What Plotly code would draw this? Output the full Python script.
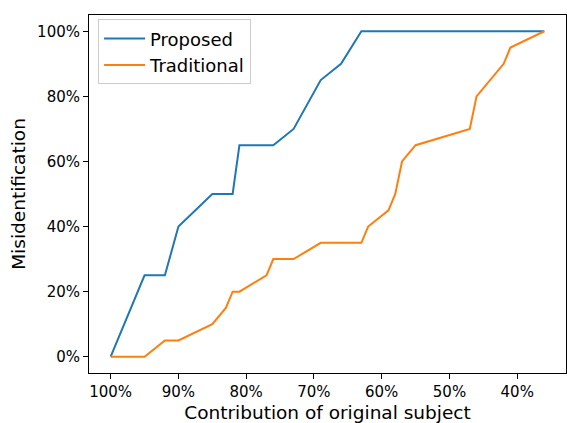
import plotly.graph_objects as go

# Contribution of original subject (%) and misidentification rate (%)
proposed_x = [100, 95, 92, 90, 85, 82, 81, 76, 73, 69, 66, 63, 36]
proposed_y = [0, 25, 25, 40, 50, 50, 65, 65, 70, 85, 90, 100, 100]

traditional_x = [100, 95, 92, 90, 85, 83, 82, 81, 77, 76, 73, 69, 63, 62, 59,
                 58, 57, 55, 47, 46, 42, 41, 36]
traditional_y = [0, 0, 5, 5, 10, 15, 20, 20, 25, 30, 30, 35, 35, 40, 45,
                 50, 60, 65, 70, 80, 90, 95, 100]

x_ticks = [100, 90, 80, 70, 60, 50, 40]
y_ticks = [0, 20, 40, 60, 80, 100]

FONT = "DejaVu Sans"

fig = go.Figure()
fig.add_trace(go.Scatter(x=proposed_x, y=proposed_y, mode="lines", name="Proposed",
                         line=dict(color="#1f77b4", width=2)))
fig.add_trace(go.Scatter(x=traditional_x, y=traditional_y, mode="lines", name="Traditional",
                         line=dict(color="#ff7f0e", width=2)))

axis_common = dict(showline=True, linecolor="black", linewidth=1, mirror=True,
                   ticks="outside", ticklen=5, tickcolor="black", tickwidth=1,
                   showgrid=False, zeroline=False,
                   tickfont=dict(family=FONT, size=15, color="black"))

fig.update_layout(
    width=567, height=423,
    margin=dict(l=89, r=1, t=15, b=50),
    plot_bgcolor="white", paper_bgcolor="white",
    font=dict(family=FONT, color="black"),
    xaxis=dict(range=[103.2, 32.8], tickmode="array", tickvals=x_ticks,
               ticktext=[f"{v}%" for v in x_ticks], automargin=False,
               title=dict(text="Contribution of original subject",
                          font=dict(family=FONT, size=18.5), standoff=6),
               **axis_common),
    yaxis=dict(range=[-5, 105], tickmode="array", tickvals=y_ticks,
               ticktext=[f"{v}%" for v in y_ticks], automargin=False,
               title=dict(text="Misidentification",
                          font=dict(family=FONT, size=18.5), standoff=6),
               **axis_common),
    legend=dict(x=0.019, y=0.988, xanchor="left", yanchor="top",
                bgcolor="rgba(255,255,255,0.8)", bordercolor="#cccccc", borderwidth=1,
                font=dict(family=FONT, size=18), itemwidth=41),
    showlegend=True,
)

fig.write_html("out.html")
